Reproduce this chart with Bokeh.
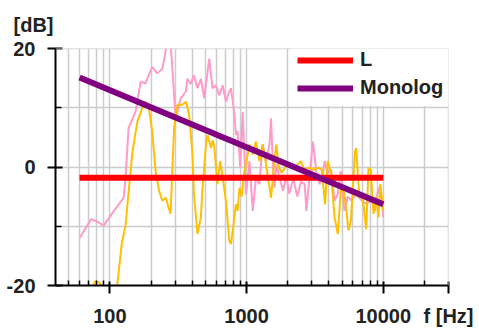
from bokeh.plotting import figure
from bokeh.models import (Range1d, FixedTicker, Legend, LegendItem, Span,
                          BoxAnnotation)
from bokeh.embed import file_html
from bokeh.resources import INLINE

# ---------------- data ----------------
pink_f = [60, 73, 82, 90, 107, 126, 130, 137, 154, 168, 182, 204, 222, 242, 263, 278,
          295, 303, 330, 359, 369, 390, 412, 437, 463, 490, 533, 563, 595, 632, 669,
          706, 740, 768, 811, 836, 859, 886, 899, 936, 960, 990, 1050, 1110, 1170,
          1240, 1310, 1390, 1470, 1510, 1560, 1600, 1650, 1750, 1850, 1950, 2050,
          2200, 2350, 2500, 2660, 2740, 2900, 3060, 3230, 3420, 3600, 3720, 3900,
          4150, 4400, 4650, 4900, 5200, 5500, 5880, 6300, 6970, 7500, 8250, 8700,
          9220, 9750, 10000]
pink_db = [-12, -8.8, -9.3, -9.9, -7.4, -5.2, -2, 6.6, 9.3, 14.4, 14.1, 16.9, 15.8,
           16.6, 21, 21, 12.1, 8.2, 11.6, 12.7, 14.9, 14.0, 15.5, 13.3, 14.9, 11.6,
           18.3, 13.3, 13.8, 12.1, 13.8, 11.0, 12.5, 13.3, 9.3, 5.4, 6.0, 2.1, -0.1,
           9.3, 3, -4.6, 1.0, -7.4, -1.8, -2.9, 3.8, 1.0, 3.8, 8.2, -0.1, -3.5, 0.4,
           -2, -4, -1.5, -4.5, -2, -5, -2.5, -2.9, -7.4, -1, 4.3, -0.7, -2.9, -1.5,
           1.0, -1.0, -0.5, -5.7, -4.5, -0.7, -7.4, -5, -5.7, -4.5, -5.7, -6.2, -5.7,
           -7.4, -3.5, -5.7, -8.5]

yellow_f = [60, 68, 72, 78, 84, 88, 100, 110, 113, 122, 130, 146, 159, 172, 182, 193,
            204, 216, 229, 242, 256, 268, 278, 286, 295, 312, 339, 360, 380, 402, 412,
            437, 463, 476, 505, 518, 549, 565, 580, 612, 641, 669, 706, 747, 768, 804,
            836, 860, 886, 920, 960, 1000, 1050, 1110, 1170, 1240, 1310, 1390, 1440,
            1510, 1580, 1650, 1720, 1800, 2000, 2240, 2490, 2650, 2900, 3100, 3330,
            3550, 3750, 3920, 4150, 4400, 4650, 4900, 5200, 5560, 5800, 6200, 6350,
            6500, 6700, 7000, 7500, 7800, 8100, 8250, 8480, 8900, 9220, 9500, 9750,
            10000]
yellow_db = [-22, -20.3, -21, -19.3, -19.5, -21, -24, -22, -20, -13, -9.9, 2.5, 7.7,
             9.9, 11.0, 9.9, 6.0, -0.7, -4.0, -5.7, -5.2, -6.8, -7.9, -0.7, 6.6, 10.5,
             10.5, 11, 8.8, 2.1, -4.6, -11.3, -8.5, -3.5, 3.8, 5.4, 3.2, 4.5, 3.5, -2.9,
             1.0, -1.8, -5.7, -12.4, -13.0, -9.6, -6.3, -7.4, -3.5, -5, -1, 1, 3.8, 2.1,
             4.3, 1.0, 3.8, 0.4, -2, -5.2, 0, 3.8, 0, -1, 0.5, -0.1, 1.0, -0.5, -0.1,
             -0.5, -0.1, -0.5, -6.3, 1.0, -1, -8.5, -11.3, -3.5, -4.5, -10.7, -9, 2.6,
             3.2, -1, -5.2, -4.5, -10.5, -0.1, -0.5, -3.5, -7.9, -5, -8.5, -2.9, -5,
             -7.4]

l_f = [60, 10000]
l_db = [-1.8, -1.8]

mono_f = [60, 10000]
mono_db = [15.1, -6.3]

x_major = [100, 1000, 10000, 30000]
x_labels = ["100", "1000", "10000", "f [Hz]"]
x_minor = [50, 60, 70, 80, 90, 200, 300, 400, 500, 600, 700, 800, 900,
           2000, 3000, 4000, 5000, 6000, 7000, 8000, 9000, 20000]
y_major = [-20, 0, 20]
y_labels = ["-20", "0", "20"]
y_minor = [-10, 10]
y_unit = "[dB]"

FONT = "Liberation Sans"
FS = "20px"
TXT = "#222222"
GRID = "#cccccc"

p = figure(width=479, height=329, x_axis_type="log",
           x_range=Range1d(40, 30000), y_range=Range1d(-20, 20),
           output_backend="svg", toolbar_location=None,
           min_border_left=55, min_border_right=31,
           min_border_top=48, min_border_bottom=42)
p.outline_line_color = None
p.background_fill_color = "white"
p.border_fill_color = "white"

# "[dB]" unit label as a left-aligned title
p.title.text = y_unit
p.title.align = "left"
p.title.vertical_align = "top"
p.title.offset = -42
p.title.standoff = 22
p.title.text_font = FONT
p.title.text_font_style = "bold"
p.title.text_font_size = FS
p.title.text_color = TXT

# axes
xa = p.xaxis[0]
ya = p.yaxis[0]
xa.ticker = FixedTicker(ticks=x_major, minor_ticks=x_minor)
ya.ticker = FixedTicker(ticks=y_major, minor_ticks=y_minor)
xa.major_label_overrides = {t: s for t, s in zip(x_major, x_labels)}
ya.major_label_overrides = {t: s for t, s in zip(y_major, y_labels)}
for ax in (xa, ya):
    ax.axis_line_color = "black"
    ax.axis_line_width = 2
    ax.major_tick_line_color = "black"
    ax.major_tick_line_width = 2
    ax.major_tick_out = 8
    ax.minor_tick_line_color = "black"
    ax.minor_tick_line_width = 1.5
    ax.minor_tick_out = 0
    ax.major_label_text_font = FONT
    ax.major_label_text_font_style = "bold"
    ax.major_label_text_font_size = FS
    ax.major_label_text_color = TXT
xa.major_label_standoff = 11
ya.major_label_standoff = 12
xa.major_tick_in = 4
xa.minor_tick_in = 5
ya.major_tick_in = 7
ya.minor_tick_in = 6

for g in (p.xgrid[0], p.ygrid[0]):
    g.grid_line_color = GRID
    g.grid_line_width = 1.5
    g.minor_grid_line_color = GRID
    g.minor_grid_line_width = 1.5
p.xgrid[0].ticker = xa.ticker
p.ygrid[0].ticker = ya.ticker

# data lines
p.line(pink_f, pink_db, line_color="#ff9bc9", line_width=2)
p.line(yellow_f, yellow_db, line_color="#ffc000", line_width=2)
r_l = p.line(l_f, l_db, line_color="#ff0000", line_width=6)
r_m = p.line(mono_f, mono_db, line_color="#800080", line_width=6)

# frame borders (top / right)
p.add_layout(Span(location=20, dimension="width", line_color=GRID, line_width=1.5))
p.add_layout(Span(location=30000, dimension="height", line_color=GRID, line_width=1.5))

# white area behind the legend
p.add_layout(BoxAnnotation(left=2100, right=30000, bottom=10.3, top=20,
                           fill_color="white", fill_alpha=1.0, line_color=None))

legend = Legend(items=[LegendItem(label="L", renderers=[r_l]),
                       LegendItem(label="Monolog", renderers=[r_m])],
                location=(242, 186), orientation="vertical",
                background_fill_alpha=0.0,
                border_line_color=None, padding=9, spacing=5,
                glyph_width=56, glyph_height=20, label_height=20,
                label_standoff=7, margin=0,
                label_text_font=FONT, label_text_font_style="bold",
                label_text_font_size=FS, label_text_color=TXT)
p.add_layout(legend, "center")

open("out.html", "w").write(file_html(p, INLINE))
